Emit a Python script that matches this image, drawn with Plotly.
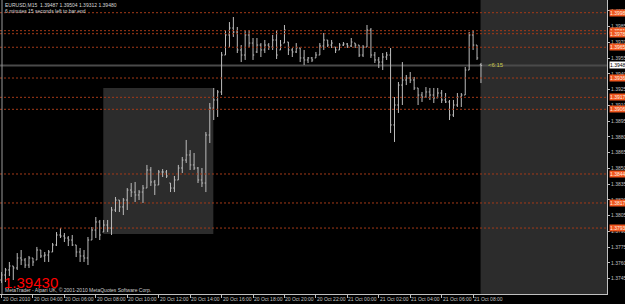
import plotly.graph_objects as go

# ---------------- data ----------------
symbol_title = "EURUSD,M15  1.39487 1.39504 1.39312 1.39480"
timer_text = "6 minutes 15 seconds left to bar end"
countdown_text = "<6:15"
big_price_text = "1.39430"
copyright_text = "MetaTrader - Alpari UK, \u00a9 2001-2010 MetaQuotes Software Corp."

# 15-minute bars starting 20 Oct 2010 02:00, prices in points (1 point = 0.00001)
open_pts = [
    137436, 137484, 137532, 137570, 137551, 137646, 137627, 137579, 137646, 137627,
    137722, 137665, 137674, 137703, 137770, 137865, 137855, 137836, 137817, 137770,
    137703, 137665, 137646, 137817, 137912, 137989, 137893, 137960, 137931, 138103,
    138198, 138132, 138198, 138293, 138274, 138246, 138274, 138312, 138484, 138370,
    138341, 138465, 138465, 138360, 138312, 138389, 138503, 138579, 138627, 138532,
    138503, 138389, 138360, 138817, 139074, 139151, 139227, 139579, 139770, 139836,
    139798, 139627, 139579, 139770, 139693, 139608, 139674, 139627, 139674, 139655,
    139722, 139627, 139693, 139703, 139627, 139608, 139646, 139551, 139532, 139551,
    139551, 139579, 139665, 139722, 139674, 139655, 139627, 139674, 139684, 139665,
    139693, 139674, 139579, 139655, 139817, 139579, 139532, 139512, 139560, 139579,
    138913, 139103, 139293, 139341, 139360, 139341, 139265, 139198, 139179, 139227,
    139198, 139170, 139217, 139151, 139132, 139008, 139103, 139179, 139198, 139436,
    139770, 139674, 139487]
high_pts = [
    137512, 137551, 137608, 137570, 137693, 137722, 137646, 137665, 137646, 137751,
    137722, 137703, 137722, 137789, 137893, 137931, 137884, 137855, 137865, 137770,
    137741, 137722, 137846, 137941, 138036, 138008, 138008, 138008, 138132, 138227,
    138198, 138217, 138312, 138360, 138370, 138293, 138341, 138532, 138512, 138389,
    138484, 138493, 138484, 138360, 138427, 138532, 138608, 138770, 138674, 138646,
    138512, 138503, 138846, 139122, 139265, 139246, 139608, 139817, 139893, 139941,
    139846, 139674, 139817, 139817, 139741, 139741, 139693, 139722, 139693, 139770,
    139817, 139722, 139865, 139703, 139646, 139693, 139646, 139627, 139560, 139560,
    139608, 139693, 139789, 139722, 139722, 139655, 139693, 139703, 139693, 139741,
    139693, 139674, 139674, 139865, 139836, 139608, 139560, 139598, 139608, 139646,
    139179, 139322, 139512, 139389, 139417, 139370, 139265, 139227, 139274, 139265,
    139265, 139265, 139246, 139217, 139151, 139151, 139217, 139217, 139465, 139798,
    139817, 139674, 139504]
low_pts = [
    137408, 137417, 137474, 137436, 137532, 137579, 137551, 137551, 137570, 137627,
    137646, 137608, 137608, 137703, 137760, 137836, 137798, 137760, 137760, 137655,
    137608, 137608, 137579, 137817, 137836, 137817, 137893, 137893, 137865, 138084,
    138084, 138055, 138103, 138227, 138179, 138198, 138170, 138312, 138332, 138246,
    138341, 138417, 138408, 138274, 138274, 138389, 138455, 138551, 138484, 138484,
    138360, 138322, 138274, 138741, 138960, 138989, 139198, 139579, 139655, 139751,
    139598, 139512, 139532, 139655, 139532, 139598, 139560, 139598, 139627, 139627,
    139541, 139627, 139693, 139579, 139560, 139598, 139512, 139484, 139503, 139512,
    139551, 139579, 139627, 139655, 139646, 139598, 139627, 139665, 139646, 139655,
    139646, 139560, 139560, 139655, 139551, 139503, 139455, 139436, 139532, 138836,
    138751, 139027, 139103, 139293, 139312, 139246, 139103, 139132, 139170, 139151,
    139122, 139170, 139122, 139122, 138960, 138989, 139084, 139084, 139198, 139436,
    139627, 139532, 139312]
close_pts = [
    137484, 137532, 137570, 137551, 137646, 137627, 137579, 137646, 137608, 137722,
    137665, 137674, 137703, 137770, 137865, 137855, 137836, 137817, 137770, 137703,
    137665, 137646, 137817, 137912, 137989, 137865, 137960, 137931, 138103, 138198,
    138132, 138198, 138293, 138274, 138246, 138274, 138312, 138484, 138370, 138341,
    138465, 138465, 138427, 138312, 138389, 138503, 138579, 138627, 138532, 138503,
    138389, 138360, 138817, 139074, 139151, 139227, 139579, 139770, 139836, 139798,
    139627, 139579, 139770, 139693, 139579, 139674, 139627, 139674, 139655, 139722,
    139579, 139674, 139817, 139627, 139608, 139646, 139551, 139532, 139551, 139532,
    139579, 139665, 139722, 139674, 139693, 139627, 139674, 139684, 139665, 139703,
    139674, 139579, 139655, 139817, 139579, 139532, 139512, 139560, 139579, 138913,
    139103, 139293, 139341, 139360, 139341, 139265, 139198, 139179, 139227, 139198,
    139170, 139217, 139151, 139132, 139008, 139103, 139179, 139198, 139436, 139770,
    139674, 139551, 139480]

time_label_bars = [0, 8, 16, 24, 32, 40, 48, 56, 64, 72, 80, 88, 96, 104, 112, 120]
time_labels = ["20 Oct 2010", "20 Oct 04:00", "20 Oct 06:00", "20 Oct 08:00",
               "20 Oct 10:00", "20 Oct 12:00", "20 Oct 14:00", "20 Oct 16:00",
               "20 Oct 18:00", "20 Oct 20:00", "20 Oct 22:00", "21 Oct 00:00",
               "21 Oct 02:00", "21 Oct 04:00", "21 Oct 06:00", "21 Oct 08:00"]

price_ticks = [1.37300, 1.37450, 1.37600, 1.37750, 1.37900, 1.38050, 1.38200,
               1.38350, 1.38500, 1.38650, 1.38800, 1.38950, 1.39100, 1.39250,
               1.39400, 1.39550, 1.39700, 1.39850, 1.40000]

level_prices = [1.39982, 1.39811, 1.39782, 1.39653, 1.39360, 1.39176, 1.39062,
                1.38446, 1.38170, 1.37931]
bid_price = 1.39480

rect1_bars = [25.9, 53.9]
rect1_prices = [1.37874, 1.39265]
rect2_start_bar = 121.9

price_min, price_max = 1.37303, 1.40103

# ---------------- figure ----------------
n = len(close_pts)
bars = list(range(n))
o = [v / 1e5 for v in open_pts]
h = [v / 1e5 for v in high_pts]
l = [v / 1e5 for v in low_pts]
c = [v / 1e5 for v in close_pts]

W, H = 625, 304
plot_w = 607
px_per_bar = 3.93
x_lo = -1.5 / px_per_bar
x_hi = x_lo + plot_w / px_per_bar

FONT = "Liberation Sans, Arial, sans-serif"
BAR_COL = "#bcbcbc"
AX_COL = "#c0c0c0"
LEVEL_COL = "#a33a18"
LABEL_BG = "#f0561e"

fig = go.Figure()
fig.add_trace(go.Ohlc(
    x=bars, open=o, high=h, low=l, close=c,
    increasing=dict(line=dict(color=BAR_COL, width=1)),
    decreasing=dict(line=dict(color=BAR_COL, width=1)),
    tickwidth=0.3, hoverinfo="skip", showlegend=False))

shapes = []
# shaded rectangles
shapes.append(dict(type="rect", xref="x", yref="y",
                   x0=rect1_bars[0], x1=rect1_bars[1],
                   y0=rect1_prices[0], y1=rect1_prices[1],
                   fillcolor="#2c2c2c", line=dict(width=0), layer="below"))
shapes.append(dict(type="rect", xref="x", yref="paper",
                   x0=rect2_start_bar, x1=x_hi, y0=0, y1=1,
                   fillcolor="#2c2c2c", line=dict(width=0), layer="below"))
# bid line
shapes.append(dict(type="line", xref="paper", yref="y", x0=0, x1=1,
                   y0=bid_price, y1=bid_price,
                   line=dict(color="#4a4a4a", width=2), layer="below"))
# support / resistance levels
for p in level_prices:
    shapes.append(dict(type="line", xref="paper", yref="y", x0=0, x1=1,
                       y0=p, y1=p,
                       line=dict(color=LEVEL_COL, width=1, dash="2px,2px")))
# left frame line
shapes.append(dict(type="line", xref="paper", yref="paper",
                   x0=2 / plot_w, x1=2 / plot_w, y0=0, y1=1,
                   line=dict(color="#9a9a9a", width=1)))

annotations = []
for p in level_prices:
    annotations.append(dict(xref="paper", yref="y", x=1, y=p, xanchor="left",
                            yanchor="middle", xshift=2, text=f"{p:.5f}",
                            showarrow=False, bgcolor=LABEL_BG, borderpad=0,
                            font=dict(family=FONT, size=5, color="#fff0e0")))
annotations.append(dict(xref="paper", yref="y", x=1, y=bid_price, xanchor="left",
                        yanchor="middle", xshift=2, text=f"{bid_price:.5f}",
                        showarrow=False, bgcolor="#ffffff", borderpad=0,
                        font=dict(family=FONT, size=5, color="#000000")))
annotations.append(dict(xref="paper", yref="paper", x=0, y=1, xanchor="left",
                        yanchor="top", xshift=3, yshift=0, text=symbol_title,
                        showarrow=False,
                        font=dict(family=FONT, size=5, color="#d8d8d8")))
annotations.append(dict(xref="paper", yref="paper", x=0, y=1, xanchor="left",
                        yanchor="top", xshift=3, yshift=-6, text=timer_text,
                        showarrow=False,
                        font=dict(family=FONT, size=5, color="#d8d8d8")))
annotations.append(dict(xref="x", yref="y", x=123.4, y=bid_price, xanchor="left",
                        yanchor="middle", text=countdown_text, showarrow=False,
                        font=dict(family=FONT, size=6, color="#c8c84a")))
annotations.append(dict(xref="paper", yref="paper", x=0, y=0, xanchor="left",
                        yanchor="bottom", xshift=2, yshift=1, text=big_price_text,
                        showarrow=False,
                        font=dict(family=FONT, size=15, color="#ff0000")))
annotations.append(dict(xref="paper", yref="paper", x=0, y=0, xanchor="left",
                        yanchor="bottom", xshift=3, yshift=-1, text=copyright_text,
                        showarrow=False,
                        font=dict(family=FONT, size=5, color="#d0d0d0")))
# time axis labels (to the right of their tick marks)
for b, t in zip(time_label_bars, time_labels):
    annotations.append(dict(xref="x", yref="paper", x=b, y=0, xanchor="left",
                            yanchor="top", xshift=0, yshift=-1, text=t,
                            showarrow=False, borderpad=0,
                            font=dict(family=FONT, size=5, color=AX_COL)))

fig.update_layout(
    width=W, height=H,
    margin=dict(l=0, r=W - plot_w, t=0, b=10, pad=0),
    paper_bgcolor="#000000", plot_bgcolor="#000000",
    showlegend=False, shapes=shapes, annotations=annotations,
    font=dict(family=FONT, size=5, color=AX_COL),
    xaxis=dict(range=[x_lo, x_hi], rangeslider=dict(visible=False),
               tickmode="array", tickvals=time_label_bars,
               showticklabels=False,
               ticks="outside", ticklen=3, tickcolor=AX_COL, tickwidth=1,
               showline=True, linecolor=AX_COL, linewidth=1,
               showgrid=False, zeroline=False, automargin=False, fixedrange=True),
    yaxis=dict(range=[price_min, price_max], side="right",
               tickmode="array", tickvals=price_ticks,
               ticktext=[f"{p:.5f}" for p in price_ticks],
               ticks="outside", ticklen=2, tickcolor=AX_COL, tickwidth=1,
               tickfont=dict(family=FONT, size=5, color=AX_COL),
               showline=True, linecolor=AX_COL, linewidth=1,
               showgrid=False, zeroline=False, automargin=False, fixedrange=True),
)

fig.write_html("out.html", config={"displayModeBar": False})
